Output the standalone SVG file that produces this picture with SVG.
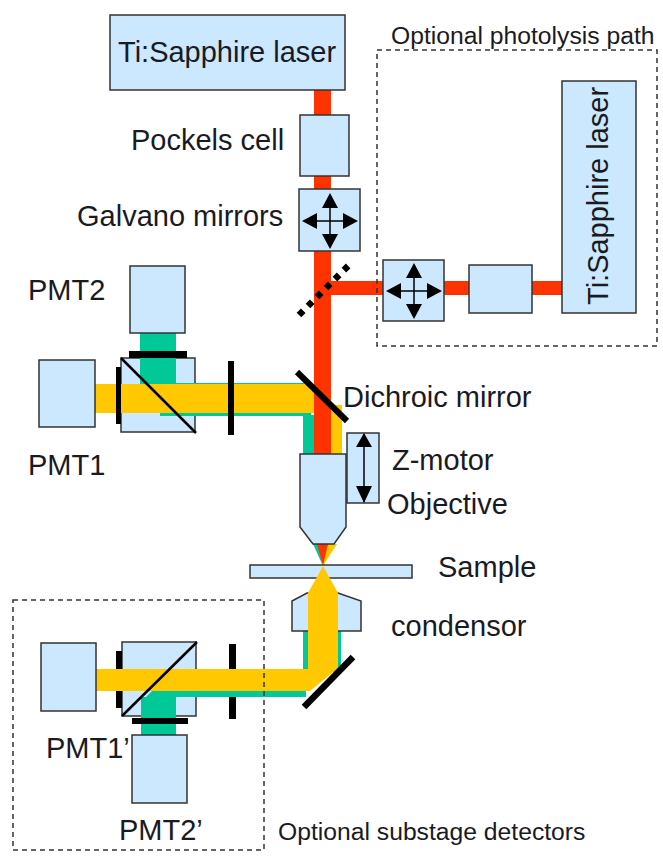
<svg xmlns="http://www.w3.org/2000/svg" width="663" height="864" viewBox="0 0 663 864">
<style>
.b{fill:#cce8ff;stroke:#333;stroke-width:1.5}
.t{font-family:"Liberation Sans",Arial,sans-serif;fill:#1a1a22;font-size:29px}
.s{font-size:24.700px}
.f{fill:#000;stroke:none}
.r{fill:#ff3300}.y{fill:#ffc800}.g{fill:#00c896}
.d{fill:none;stroke:#333;stroke-width:1.5;stroke-dasharray:5 4}
.a{stroke:#000;stroke-width:1.5;fill:none}
</style>
<defs>
<g id="cross">
<path class="a" d="M0-26V26M-26 0H26"/>
<path class="f" d="M0-28L8-13H-8ZM0 28L8 13H-8ZM-28 0L-13-8V8ZM28 0L13-8V8Z"/>
</g>
</defs>
<rect width="663" height="864" fill="#fff"/>
<g id="cubes">
<rect class="b" x="121" y="358" width="74" height="74"/>
<rect class="b" x="122" y="642" width="74" height="74"/>
<path class="f" d="M229 644H236V719H229ZM116 651H122V708H116Z"/>
</g>
<g id="connectors">
<path class="g" d="M160 413H176V383H311V416H160Z"/>
<rect class="g" x="303" y="415" width="12" height="40"/>
<rect class="g" x="140" y="333" width="36" height="55"/>
<rect class="y" x="331" y="405" width="11" height="50"/>
<rect class="y" x="95" y="384" width="220" height="29"/>
<rect class="r" x="314" y="90" width="17" height="365"/>
<rect class="r" x="330" y="281" width="232" height="14"/>
<path class="g" d="M313 544H318L323 566Z"/>
<path class="y" d="M327 544H337L323 566Z"/>
<path class="r" d="M317 544H328L323 566Z"/>
<path class="g" d="M152 691H306V697H176V736H141V697H146Z"/>
</g>
<g id="top-laser"><rect class="b" x="110" y="15" width="235" height="75"/><text class="t" x="118" y="62">Ti:Sapphire laser</text></g>
<g id="pockels"><rect class="b" x="300" y="115" width="49" height="61"/><text class="t" x="131" y="150">Pockels cell</text></g>
<g id="galvano"><rect class="b" x="299" y="189" width="61" height="62"/><use href="#cross" x="330" y="221"/><text class="t" x="77" y="226">Galvano mirrors</text></g>
<g id="photolysis">
<rect class="d" x="377" y="50" width="280" height="296"/>
<text class="t s" x="391" y="44">Optional photolysis path</text>
<rect class="b" x="383" y="260" width="61" height="61"/><use href="#cross" x="414" y="291"/>
<rect class="b" x="469" y="265" width="63" height="48"/>
<rect class="b" x="562" y="81" width="74" height="232"/>
<text class="t" x="0" y="0" transform="translate(608 305) rotate(-90)">Ti:Sapphire laser</text>
</g>
<g id="splitter"><path d="M299 315L349 265" fill="none" stroke="#000" stroke-width="6.500" stroke-dasharray="6 6.700"/></g>
<g id="dichroic"><path d="M297 372L347 421" stroke="#000" stroke-width="6" fill="none"/><text class="t" x="343" y="407">Dichroic mirror</text></g>
<g id="pmt2"><rect class="b" x="130" y="266" width="55" height="67"/><text class="t" x="28" y="300">PMT2</text></g>
<g id="pmt1"><rect class="b" x="39" y="360" width="56" height="67"/><text class="t" x="28" y="475">PMT1</text></g>
<g id="cube-upper">
<path class="f" d="M129 351H187V358H129ZM116 367H121V424H116ZM228 361H234V435H228Z"/>
<path d="M121 358L196 433" stroke="#000" stroke-width="2.500" fill="none"/>
</g>
<g id="objective"><path class="b" d="M300 454H346V527L334 544H313L300 527Z"/><text class="t" x="387" y="514">Objective</text></g>
<g id="z-motor"><rect class="b" x="347" y="433" width="32" height="70"/><path class="a" d="M364 434V502"/><path class="f" d="M364 433L372 447H356ZM364 503L372 486H356Z"/><text class="t" x="392" y="470">Z-motor</text></g>
<g id="sample"><rect class="b" x="250" y="565" width="162" height="13"/><text class="t" x="438" y="577">Sample</text></g>
<g id="condensor"><rect class="g" x="303" y="628" width="38" height="44"/><path class="b" d="M292 631V601L307 593H338L361 601V631Z"/><text class="t" x="391" y="636">condensor</text></g>
<g id="substage">
<path class="y" d="M96 669H308V593L323 566L338 593V668L310 691H96Z"/>
<path class="f" d="M132 718H188V724H132Z"/>
<path d="M304 707L353 657" stroke="#000" stroke-width="6.500" fill="none"/>
<path d="M122 716L197 642" stroke="#000" stroke-width="2.500" fill="none"/>
<rect class="d" x="13" y="600" width="251" height="250"/>
<rect class="b" x="41" y="643" width="55" height="68"/>
<rect class="b" x="132" y="735" width="55" height="68"/>
<text class="t" x="46" y="758">PMT1’</text>
<text class="t" x="119" y="840">PMT2’</text>
<text class="t s" x="278" y="840">Optional substage detectors</text>
</g>
</svg>
